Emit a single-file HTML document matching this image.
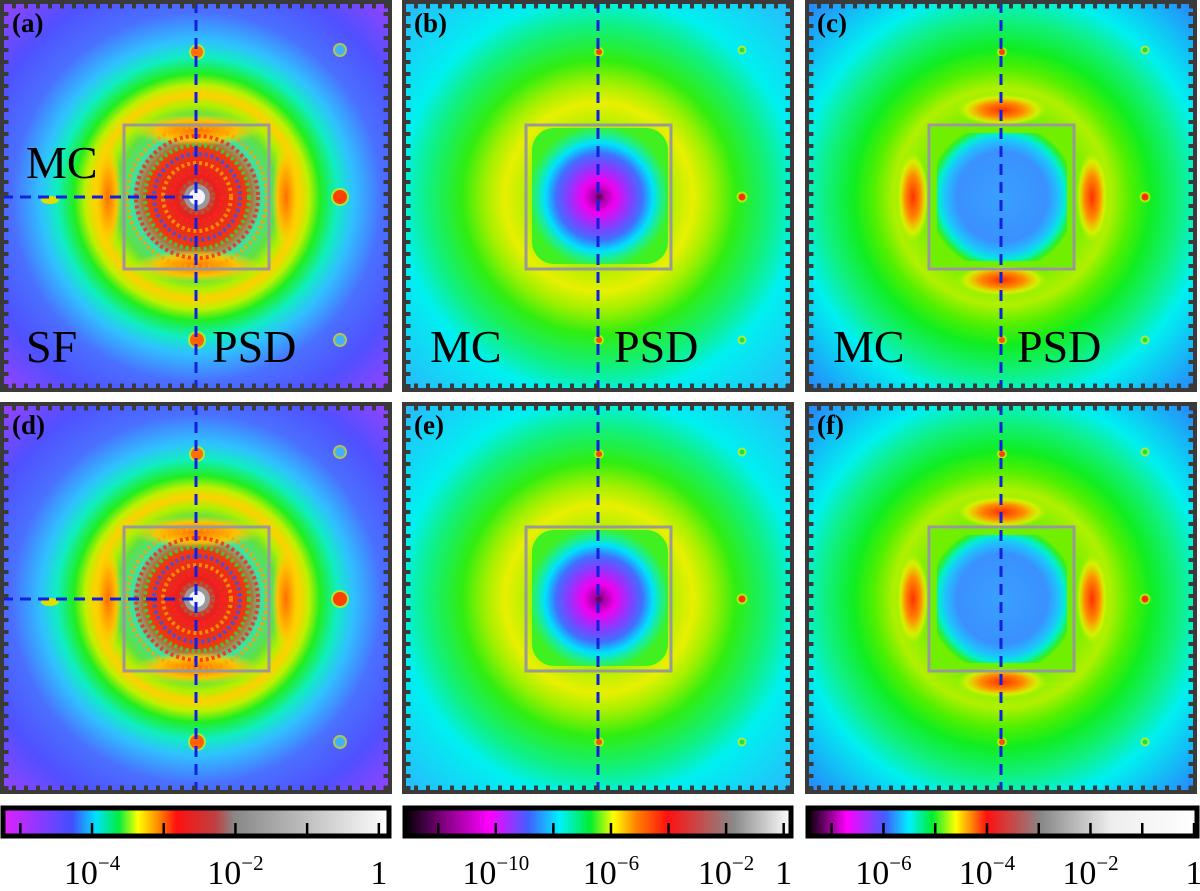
<!DOCTYPE html>
<html><head><meta charset="utf-8"><style>
html,body{margin:0;padding:0;background:#fff;}
svg{display:block;font-family:"Liberation Serif",serif;}
</style></head><body>
<svg id="fig" width="1200" height="891" viewBox="0 0 1200 891">
<defs>
<radialGradient id="gA" gradientUnits="userSpaceOnUse" cx="197" cy="197" r="280">
<stop offset="0" stop-color="#ffffff"/><stop offset="0.03" stop-color="#999"/><stop offset="0.07" stop-color="#e82020"/>
<stop offset="0.18" stop-color="#ee3a10"/><stop offset="0.23" stop-color="#40e0a0"/><stop offset="0.29" stop-color="#60e040"/>
<stop offset="0.33" stop-color="#b0f000"/><stop offset="0.365" stop-color="#ffd000"/><stop offset="0.4" stop-color="#c0f000"/>
<stop offset="0.44" stop-color="#20ee20"/><stop offset="0.5" stop-color="#10eec0"/><stop offset="0.56" stop-color="#30c0ff"/>
<stop offset="0.66" stop-color="#4a70ff"/><stop offset="0.8" stop-color="#5050ff"/><stop offset="1" stop-color="#a040ff"/></radialGradient>
<radialGradient id="gB" gradientUnits="userSpaceOnUse" cx="197" cy="197" r="285">
<stop offset="0" stop-color="#40f020"/><stop offset="0.25" stop-color="#b0f000"/><stop offset="0.33" stop-color="#e8f000"/>
<stop offset="0.4" stop-color="#a0f000"/><stop offset="0.48" stop-color="#30ee10"/><stop offset="0.6" stop-color="#10f080"/>
<stop offset="0.7" stop-color="#00f0f0"/><stop offset="1" stop-color="#30b0ff"/></radialGradient>
<radialGradient id="gBi" gradientUnits="userSpaceOnUse" cx="197" cy="197" r="72">
<stop offset="0" stop-color="#400040"/><stop offset="0.06" stop-color="#a000a0"/><stop offset="0.22" stop-color="#f000f0"/>
<stop offset="0.45" stop-color="#8040ff"/><stop offset="0.6" stop-color="#4070ff"/><stop offset="0.75" stop-color="#00e0ff"/>
<stop offset="0.88" stop-color="#20f080"/><stop offset="1" stop-color="#40f020"/></radialGradient>
<radialGradient id="gC" gradientUnits="userSpaceOnUse" cx="197" cy="197" r="285">
<stop offset="0" stop-color="#30ff30"/><stop offset="0.3" stop-color="#80f000"/><stop offset="0.38" stop-color="#b0f000"/>
<stop offset="0.45" stop-color="#50f000"/><stop offset="0.52" stop-color="#10ee20"/><stop offset="0.62" stop-color="#10f080"/>
<stop offset="0.72" stop-color="#00f0f0"/><stop offset="1" stop-color="#3070ff"/></radialGradient>
<radialGradient id="gCi" gradientUnits="userSpaceOnUse" cx="197" cy="197" r="75">
<stop offset="0" stop-color="#3aa0ff"/><stop offset="0.6" stop-color="#3a90ff"/><stop offset="0.75" stop-color="#20c0ff"/>
<stop offset="0.85" stop-color="#00f0d0"/><stop offset="0.95" stop-color="#30f020"/><stop offset="1" stop-color="#70f000"/></radialGradient>
<radialGradient id="lobe"><stop offset="0" stop-color="#ff3000"/><stop offset="0.5" stop-color="#ff9000"/><stop offset="0.8" stop-color="#f0f000" stop-opacity="0.7"/><stop offset="1" stop-color="#c0f000" stop-opacity="0"/></radialGradient>
<radialGradient id="lobeA"><stop offset="0" stop-color="#ff7000"/><stop offset="0.6" stop-color="#ffc000"/><stop offset="1" stop-color="#ffe000" stop-opacity="0"/></radialGradient>
<linearGradient id="cbA"><stop offset="0" stop-color="#e020ff"/><stop offset="0.18" stop-color="#4050ff"/><stop offset="0.24" stop-color="#00e0ff"/><stop offset="0.3" stop-color="#00ee40"/><stop offset="0.35" stop-color="#ffff00"/><stop offset="0.4" stop-color="#ff9000"/><stop offset="0.45" stop-color="#ff1010"/><stop offset="0.55" stop-color="#c04040"/><stop offset="0.6" stop-color="#888"/><stop offset="1" stop-color="#fff"/></linearGradient>
<linearGradient id="cbB"><stop offset="0" stop-color="#000"/><stop offset="0.1" stop-color="#800080"/><stop offset="0.22" stop-color="#ff00ff"/><stop offset="0.32" stop-color="#4060ff"/><stop offset="0.4" stop-color="#00f0ff"/><stop offset="0.48" stop-color="#00ee30"/><stop offset="0.54" stop-color="#ffff00"/><stop offset="0.6" stop-color="#ff8000"/><stop offset="0.68" stop-color="#ff1010"/><stop offset="0.85" stop-color="#888"/><stop offset="1" stop-color="#fff"/></linearGradient>
<linearGradient id="cbC"><stop offset="0" stop-color="#000"/><stop offset="0.1" stop-color="#ff00ff"/><stop offset="0.2" stop-color="#4060ff"/><stop offset="0.26" stop-color="#00f0ff"/><stop offset="0.32" stop-color="#00ee30"/><stop offset="0.38" stop-color="#ffff00"/><stop offset="0.46" stop-color="#ff1010"/><stop offset="0.6" stop-color="#888"/><stop offset="0.78" stop-color="#eee"/><stop offset="1" stop-color="#fff"/></linearGradient>
</defs>
<g id="panels"></g>
<g id="bars"></g>
</svg>
<script>
// colorbar data (log10 values)
const cbARange=[-5.2,0.1];
const cbATicks=[-5,-4,-3,-2,-1,0];
const cbALabels=[[-4,"10<tspan dy='-14' font-size='21'>−4</tspan>"],[-2,"10<tspan dy='-14' font-size='21'>−2</tspan>"],[0,"1"]];
const cbBRange=[-13.05,0.15];
const cbBTicks=[-12,-10,-8,-6,-4,-2,0];
const cbBLabels=[[-10,"10<tspan dy='-14' font-size='21'>−10</tspan>"],[-6,"10<tspan dy='-14' font-size='21'>−6</tspan>"],[-2,"10<tspan dy='-14' font-size='21'>−2</tspan>"],[0,"1"]];
const cbCRange=[-7.4,0.0];
const cbCTicks=[-7,-6,-5,-4,-3,-2,-1,0];
const cbCLabels=[[-6,"10<tspan dy='-14' font-size='21'>−6</tspan>"],[-4,"10<tspan dy='-14' font-size='21'>−4</tspan>"],[-2,"10<tspan dy='-14' font-size='21'>−2</tspan>"],[0,"1"]];

const NS="http://www.w3.org/2000/svg";
const panelsG=document.getElementById('panels');
function panel(ox,oy,type,letter,labels){
  let s=`<g transform="translate(${ox},${oy})">`;
  const bg=type==='a'?'gA':type==='b'?'gB':'gC';
  s+=`<rect x="2" y="2" width="388" height="388" fill="url(#${bg})"/>`;
  if(type==='a'){
    s+=`<ellipse cx="197" cy="130" rx="65" ry="16" fill="url(#lobeA)"/><ellipse cx="197" cy="266" rx="65" ry="16" fill="url(#lobeA)"/>`;
    s+=`<ellipse cx="108" cy="197" rx="14" ry="55" fill="url(#lobeA)"/><ellipse cx="286" cy="197" rx="14" ry="55" fill="url(#lobeA)"/>`;
    for(let r=70;r>10;r-=9){s+=`<circle cx="197" cy="197" r="${r}" fill="none" stroke="${['#3050ff','#20e040','#ff2020','#ffa000'][(r/9|0)%4]}" stroke-width="4" stroke-dasharray="3 3" opacity="0.8"/>`;}
    s+=`<circle cx="197" cy="197" r="22" fill="#e82020" opacity="0.6"/><circle cx="197" cy="197" r="13" fill="#999"/><circle cx="197" cy="197" r="8" fill="#f4f4ff"/>`;
    s+=`<ellipse cx="50" cy="200" rx="9" ry="4" fill="#e0e000"/>`;
  }
  if(type==='b'){
    s+=`<rect x="130" y="128" width="136" height="136" rx="22" fill="url(#gBi)"/>`;
  }
  if(type==='c'){
    s+=`<ellipse cx="197" cy="110" rx="45" ry="16" fill="url(#lobe)"/><ellipse cx="197" cy="280" rx="45" ry="16" fill="url(#lobe)"/>`;
    s+=`<ellipse cx="108" cy="197" rx="16" ry="45" fill="url(#lobe)"/><ellipse cx="287" cy="197" rx="16" ry="45" fill="url(#lobe)"/>`;
    s+=`<rect x="126" y="127" width="142" height="140" fill="#70f000"/><rect x="132" y="133" width="130" height="128" rx="18" fill="url(#gCi)"/>`;
  }
  const big=type==='a';
  const spots=[[197,52,big?'#ff7000':'#ff4000',big?6:3],[340,50,big?'#40b0ff':'#20e040',big?5:2.5],[340,197,big?'#ff4000':'#ff3000',big?7:3.5],[197,340,big?'#ff6000':'#ff5000',big?7:3],[340,340,big?'#40b0ff':'#20e040',big?5:2.5]];
  spots.forEach(p=>{s+=`<circle cx="${p[0]}" cy="${p[1]}" r="${p[3]+2}" fill="#e0f000" opacity="0.7"/><circle cx="${p[0]}" cy="${p[1]}" r="${p[3]}" fill="${p[2]}"/>`;});
  s+=`<rect x="124" y="125" width="145" height="144" fill="none" stroke="#999" stroke-width="3"/>`;
  s+=`<line x1="196" y1="2" x2="196" y2="390" stroke="#1020e0" stroke-width="3" stroke-dasharray="11 7"/>`;
  if(type==='a') s+=`<line x1="2" y1="197" x2="196" y2="197" stroke="#1020e0" stroke-width="3" stroke-dasharray="11 7"/>`;
  s+=`<rect x="2" y="2" width="388" height="388" fill="none" stroke="#3a3a3a" stroke-width="4"/>`;
  s+=`<g stroke="#3a3a3a" stroke-width="5" stroke-dasharray="4 8">`+
     `<line x1="6" y1="12" x2="6" y2="390"/><line x1="386" y1="12" x2="386" y2="390"/>`+
     `<line x1="12" y1="6" x2="390" y2="6"/><line x1="12" y1="386" x2="390" y2="386"/></g>`;
  s+=`<text x="12" y="32" font-size="27" font-weight="bold">(${letter})</text>`;
  labels.forEach(l=>{s+=`<text x="${l[0]}" y="${l[1]}" font-size="46">${l[2]}</text>`;});
  s+='</g>';
  const g=document.createElementNS(NS,'g');
  
  
  g.innerHTML=s;
  panelsG.appendChild(g);
}
const labA=[[26,178,'MC'],[26,362,'SF'],[212,362,'PSD']];
const labB=[[28,362,'MC'],[212,362,'PSD']];
panel(0,0,'a','a',labA);panel(402,0,'b','b',labB);panel(805,0,'c','c',labB);
panel(0,402,'a','d',[]);panel(402,402,'b','e',[]);panel(805,402,'c','f',[]);

const barsG=document.getElementById('bars');
function colorbar(x0,w,grad,range,ticks,labels,name){
  const sc=v=>x0+6+(v-range[0])/(range[1]-range[0])*(w-12);
  const g=document.createElementNS(NS,'g');
  
  
  let s=`<rect x="${x0+3}" y="808" width="${w-6}" height="28" fill="url(#${grad})" stroke="#000" stroke-width="5"/>`;
  ticks.forEach(t=>{s+=`<line x1="${sc(t)}" y1="823" x2="${sc(t)}" y2="834" stroke="#000" stroke-width="2.5"/>`;});
  labels.forEach(l=>{s+=`<text x="${sc(l[0])}" y="884" font-size="34" text-anchor="middle">${l[1]}</text>`;});
  g.innerHTML=s;
  barsG.appendChild(g);
}
colorbar(0,392,'cbA',cbARange,cbATicks,cbALabels,'colorbar-a');
colorbar(402,392,'cbB',cbBRange,cbBTicks,cbBLabels,'colorbar-b');
colorbar(805,395,'cbC',cbCRange,cbCTicks,cbCLabels,'colorbar-c');
</script>
</body></html>
